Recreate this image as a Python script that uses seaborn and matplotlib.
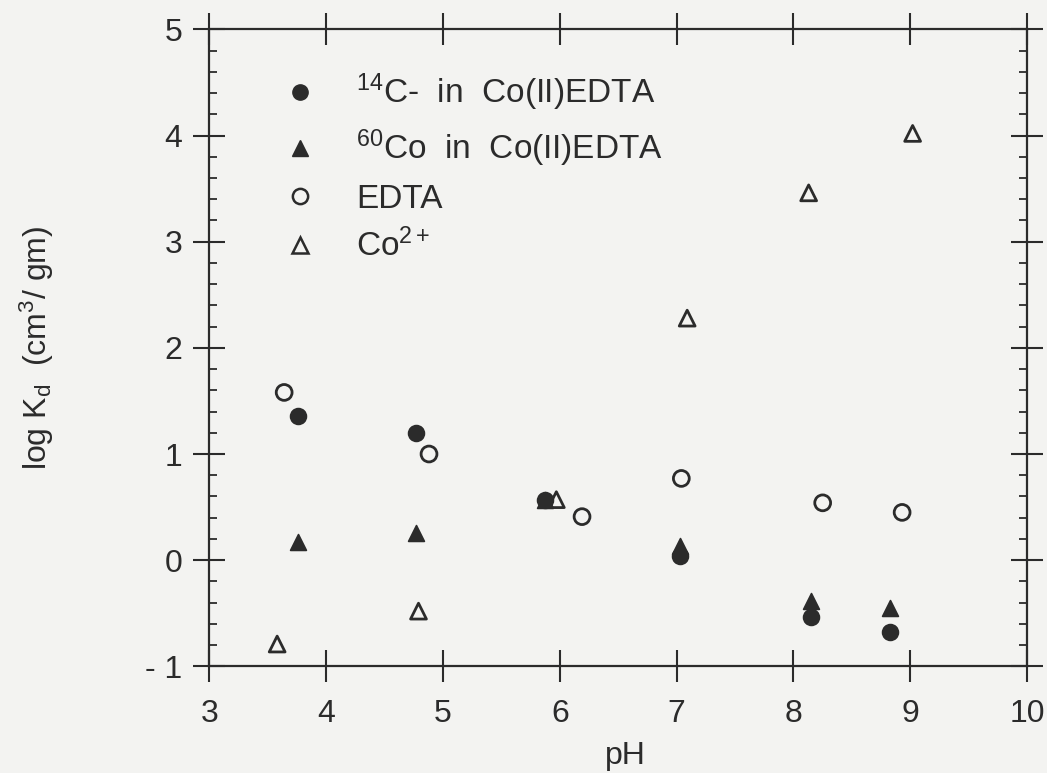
import numpy as np
import pandas as pd
import matplotlib
matplotlib.use("Agg")
import matplotlib.pyplot as plt
import seaborn as sns
from matplotlib.ticker import FixedLocator, FixedFormatter, MultipleLocator
from matplotlib.lines import Line2D

# ---- data ----
c14_ph = [3.76, 4.77, 5.87, 7.03, 8.15, 8.83]
c14_kd = [1.36, 1.20, 0.57, 0.04, -0.54, -0.68]

co60_ph = [3.76, 4.77, 5.87, 7.03, 8.15, 8.83]
co60_kd = [0.17, 0.26, 0.57, 0.13, -0.38, -0.45]

edta_ph = [3.64, 4.88, 6.19, 7.04, 8.25, 8.93]
edta_kd = [1.58, 1.00, 0.41, 0.77, 0.54, 0.45]

co2_ph = [3.58, 4.79, 5.97, 7.09, 8.13, 9.02]
co2_kd = [-0.79, -0.48, 0.57, 2.28, 3.46, 4.02]

series_labels = [r"$^{14}$C-  in  Co(II)EDTA", r"$^{60}$Co  in  Co(II)EDTA",
                 "EDTA", r"Co$^{2+}$"]
xticks = [3, 4, 5, 6, 7, 8, 9, 10]
yticks = [-1, 0, 1, 2, 3, 4, 5]
ytick_labels = ["- 1", "0", "1", "2", "3", "4", "5"]

# ---- style ----
sns.set_theme(style="white")
bg = "#f3f3f1"
ink = "#2b2b2b"
plt.rcParams["font.family"] = ["Liberation Sans", "DejaVu Sans"]
plt.rcParams["mathtext.fontset"] = "custom"
plt.rcParams["mathtext.rm"] = "Liberation Sans"
plt.rcParams["mathtext.it"] = "Liberation Sans"
plt.rcParams["mathtext.default"] = "regular"

fig = plt.figure(figsize=(10.47, 7.73), dpi=100, facecolor=bg)
ax = fig.add_axes([0.200, 0.138, 0.781, 0.824])
ax.set_facecolor(bg)

ms = 130
sns.scatterplot(x=c14_ph, y=c14_kd, marker="o", s=ms, color=ink,
                edgecolor=ink, linewidth=1.2, ax=ax)
sns.scatterplot(x=co60_ph, y=co60_kd, marker="^", s=ms, color=ink,
                edgecolor=ink, linewidth=1.2, ax=ax)
sns.scatterplot(x=edta_ph, y=edta_kd, marker="o", s=ms, facecolor="none",
                edgecolor=ink, linewidth=2.0, ax=ax)
sns.scatterplot(x=co2_ph, y=co2_kd, marker="^", s=ms, facecolor="none",
                edgecolor=ink, linewidth=2.0, ax=ax)

ax.set_xlim(3, 10)
ax.set_ylim(-1, 5)
ax.xaxis.set_major_locator(FixedLocator(xticks))
ax.yaxis.set_major_locator(FixedLocator(yticks))
ax.yaxis.set_major_formatter(FixedFormatter(ytick_labels))
ax.yaxis.set_minor_locator(MultipleLocator(0.2))

for sp in ax.spines.values():
    sp.set_color(ink)
    sp.set_linewidth(1.6)

ax.tick_params(which="major", direction="inout", length=23, width=1.5,
               color=ink, labelsize=23, labelcolor=ink,
               top=True, right=True, left=True, bottom=True)
ax.tick_params(axis="x", which="major", pad=12)
ax.tick_params(axis="y", which="major", pad=8)
ax.tick_params(which="minor", direction="in", length=6, width=1.3,
               color=ink, left=True, right=True, bottom=False, top=False)

ax.set_xlabel("pH", fontsize=23, color=ink)
ax.set_ylabel(r"log K$_d$  (cm$^3$/ gm)", fontsize=23, color=ink)
ax.xaxis.set_label_coords(0.509, -0.118)
ax.yaxis.set_label_coords(-0.187, 0.5)

handles = [
    Line2D([], [], ls="none", marker="o", ms=11, mfc=ink, mec=ink),
    Line2D([], [], ls="none", marker="^", ms=11, mfc=ink, mec=ink),
    Line2D([], [], ls="none", marker="o", ms=11, mfc="none", mec=ink, mew=1.8),
    Line2D([], [], ls="none", marker="^", ms=11, mfc="none", mec=ink, mew=1.8),
]
leg = ax.legend(handles, series_labels, loc="upper left",
                bbox_to_anchor=(283.5 / 1047, 1 - 72 / 773),
                bbox_transform=fig.transFigure, frameon=False, fontsize=24,
                handlelength=1.0, handletextpad=1.17, labelspacing=0.43,
                borderpad=0, borderaxespad=0)
for t in leg.get_texts():
    t.set_color(ink)

fig.savefig("out.png", dpi=100, facecolor=bg)
